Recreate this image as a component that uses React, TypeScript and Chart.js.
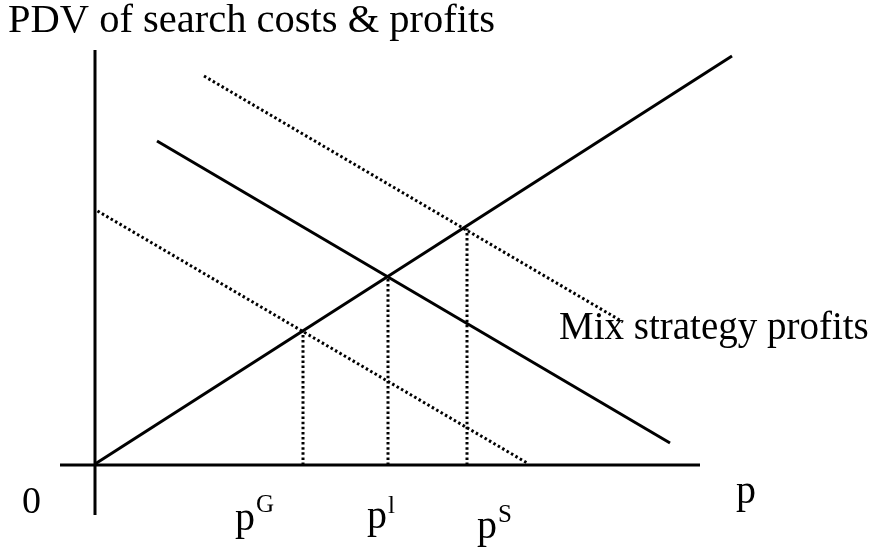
import React, { useEffect, useRef } from "react";
import { Chart, registerables } from "chart.js";

Chart.register(...registerables);

// Diagram data (economic units: x = price p, y = PDV)
const verticalAxis = [
  { x: 0, y: 8.3 },
  { x: 0, y: -1.0 },
];
const horizontalAxis = [
  { x: -0.7, y: 0 },
  { x: 12.1, y: 0 },
];
const searchCosts = [
  { x: 0, y: 0.02 },
  { x: 12.74, y: 8.18 },
];
const mixProfits = [
  { x: 1.24, y: 6.48 },
  { x: 11.5, y: 0.44 },
];
const upperProfits = [
  { x: 2.18, y: 7.78 },
  { x: 10.56, y: 2.86 },
];
const lowerProfits = [
  { x: 0.05, y: 5.08 },
  { x: 8.66, y: 0.03 },
];
const priceNames = ["G", "l", "S"];
const priceValues = [4.16, 5.86, 7.44];
const priceHeights = [2.67, 3.76, 4.73];

const titleText = "PDV of search costs & profits";
const curveLabel = "Mix strategy profits";
const originLabel = "0";
const axisLabel = "p";

const FONT = "'Liberation Serif', 'Times New Roman', serif";

const labelPlugin = {
  id: "diagramLabels",
  afterDraw(chart: any) {
    const ctx = chart.ctx;
    const xs = chart.scales.x;
    const ys = chart.scales.y;
    ctx.save();
    ctx.fillStyle = "#000";
    ctx.textBaseline = "alphabetic";
    ctx.textAlign = "left";
    ctx.font = `40.5px ${FONT}`;
    ctx.fillText(titleText, 8, 32);
    ctx.font = `39px ${FONT}`;
    ctx.fillText(curveLabel, 559, 339);
    ctx.font = `38px ${FONT}`;
    ctx.fillText(originLabel, xs.getPixelForValue(0) - 73, ys.getPixelForValue(0) + 48);
    ctx.font = `40px ${FONT}`;
    ctx.fillText(axisLabel, 736, ys.getPixelForValue(0) + 38);
    const baseOffsets = [65, 63, 73];
    const supOffsets = [47, 48, 57];
    priceValues.forEach((v, i) => {
      const px = xs.getPixelForValue(v);
      const base = ys.getPixelForValue(0);
      const dx = [-68, -21, 10][i];
      ctx.font = `40px ${FONT}`;
      ctx.fillText("p", px + dx, base + baseOffsets[i]);
      const w = ctx.measureText("p").width;
      ctx.font = `25px ${FONT}`;
      ctx.fillText(priceNames[i], px + dx + w + 1, base + supOffsets[i]);
    });
    ctx.restore();
  },
};

export default function App() {
  const ref = useRef<HTMLCanvasElement | null>(null);
  useEffect(() => {
    if (!ref.current) return;
    const solid = (data: any[]) => ({
      data,
      showLine: true,
      borderColor: "#000",
      borderWidth: 3,
      pointRadius: 0,
      borderCapStyle: "butt",
      fill: false,
    });
    const dotted = (data: any[]) => ({
      data,
      showLine: true,
      borderColor: "#000",
      borderWidth: 3,
      borderDash: [2.5, 2.6],
      pointRadius: 0,
      fill: false,
    });
    const priceLines = priceValues.map((v, i) =>
      dotted([
        { x: v, y: 0 },
        { x: v, y: priceHeights[i] },
      ])
    );
    const chart = new Chart(ref.current, {
      type: "scatter",
      data: {
        datasets: [
          solid(verticalAxis),
          solid(horizontalAxis),
          solid(searchCosts),
          solid(mixProfits),
          dotted(upperProfits),
          dotted(lowerProfits),
          ...priceLines,
        ] as any,
      },
      options: {
        responsive: false,
        animation: false,
        layout: { padding: 0 },
        scales: {
          x: { type: "linear", min: -1.9, max: 15.5, display: false },
          y: { type: "linear", min: -1.66, max: 9.3, display: false },
        },
        plugins: {
          legend: { display: false },
          tooltip: { enabled: false },
          title: { display: false },
        },
      },
      plugins: [labelPlugin],
    });
    return () => chart.destroy();
  }, []);
  return (
    <div style={{ position: "absolute", left: 0, top: 0, width: 870, height: 548, background: "#fff" }}>
      <canvas ref={ref} width={870} height={548} style={{ width: 870, height: 548 }} />
    </div>
  );
}
